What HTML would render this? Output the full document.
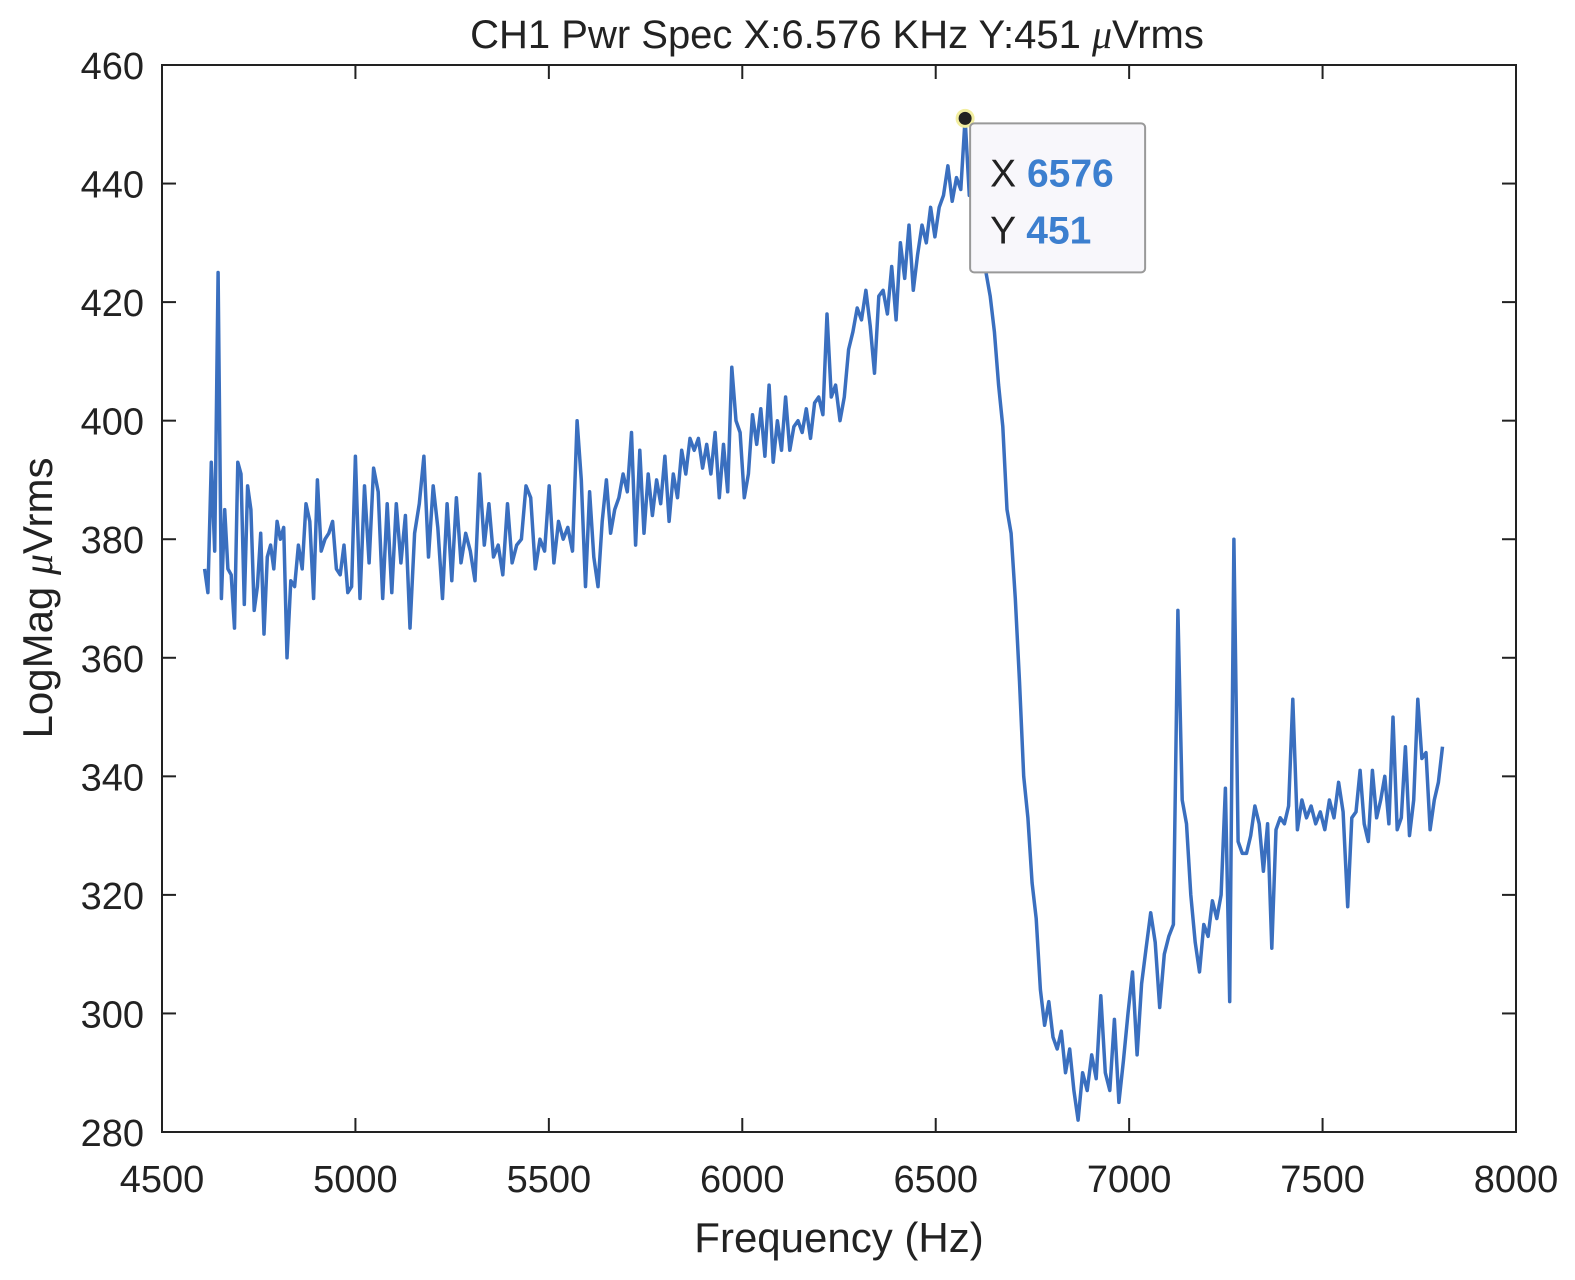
<!DOCTYPE html>
<html><head><meta charset="utf-8"><style>
html,body{margin:0;padding:0;background:#fff;}
svg text{font-family:"Liberation Sans",sans-serif;fill:#222;}
</style></head><body>
<svg width="1575" height="1275" xmlns="http://www.w3.org/2000/svg">
<rect width="1575" height="1275" fill="#fff"/>
<text x="837" y="48" font-size="40" text-anchor="middle">CH1 Pwr Spec X:6.576 KHz Y:451 <tspan font-family="Liberation Serif" font-style="italic">μ</tspan>Vrms</text>
<g id="axes"></g>
<path id="series" fill="none" stroke="#3a6fbf" stroke-width="3.5" stroke-linejoin="round"/>
<rect x="162" y="65" width="1354" height="1067" fill="none" stroke="#222" stroke-width="2"/>
<text x="839" y="1252" font-size="42" text-anchor="middle">Frequency (Hz)</text>
<text transform="translate(52,598) rotate(-90)" font-size="42" text-anchor="middle">LogMag <tspan font-family="Liberation Serif" font-style="italic">μ</tspan>Vrms</text>
<g id="tip"></g>
</svg>
<script>
const xTicks=[4500,5000,5500,6000,6500,7000,7500,8000];
const yTicks=[280,300,320,340,360,380,400,420,440,460];
const segStarts=[4610,4645,4823,5000,5141,5573,5973,6219,6576,6868,7126,7260,7423,7565];
const segEnd=7810;
const segValues=[
[375,371,393,378],
[425,370,385,375,374,365,393,391,369,389,385,368,372,381,364,377,379,375,383,380,382],
[360,373,372,379,375,386,383,370,390,378,380,381,383,375,374,379,371,372],
[394,370,389,376,392,388,370,386,371,386,376,384],
[365,381,386,394,377,389,382,370,386,373,387,376,381,378,373,391,379,386,377,379,374,386,376,379,380,389,387,375,380,378,389,376,383,380,382,378],
[400,390,372,388,377,372,383,390,381,385,387,391,388,398,379,395,381,391,384,390,386,394,383,391,387,395,391,397,395,397,392,396,391,398,387,396,388],
[409,400,398,387,391,401,396,402,394,406,393,400,395,404,395,399,400,398,402,397,403,404,401],
[418,404,406,400,404,412,415,419,417,422,416,408,421,422,418,426,417,430,424,433,422,428,433,430,436,431,436,438,443,437,441,439],
[451,438,446,440,434,425,421,415,406,399,385,381,370,356,340,333,322,316,304,298,302,296,294,297,290,294,287],
[282,290,287,293,289,303,290,287,299,285,292,300,307,293,305,311,317,312,301,310,313,315],
[368,336,332,320,312,307,315,313,319,316,320,338],
[302,380,329,327,327,330,335,332,324,332,311,331,333,332,335],
[353,331,336,333,335,332,334,331,336,333,339,334],
[318,333,334,341,332,329,341,333,336,340,332,350,331,333,345,330,336,353,343,344,331,336,339,345]
];
const peakX=[6576], peakY=[451];
const X0=162,X1=1516,Y0=1132,Y1=65;
const sx=f=>X0+(f-4500)/(8000-4500)*(X1-X0);
const sy=v=>Y0-(v-280)/(460-280)*(Y0-Y1);
const NS="http://www.w3.org/2000/svg";
const ax=document.getElementById('axes');
function mk(tag,attrs,parent){const e=document.createElementNS(NS,tag);for(const k in attrs)e.setAttribute(k,attrs[k]);parent.appendChild(e);return e;}
xTicks.forEach(t=>{const x=sx(t);
 const a=mk('line',{x1:x,x2:x,y1:Y0,y2:Y0-14,stroke:'#222','stroke-width':2},ax);
 
 
 const b=mk('line',{x1:x,x2:x,y1:Y1,y2:Y1+14,stroke:'#222','stroke-width':2},ax);
 
 
 const l=mk('text',{x:x,y:1192,'font-size':38,'text-anchor':'middle'},ax);l.textContent=t;
 
 
});
yTicks.forEach(t=>{const y=sy(t);
 const a=mk('line',{x1:X0,x2:X0+14,y1:y,y2:y,stroke:'#222','stroke-width':2},ax);
 
 
 const b=mk('line',{x1:X1,x2:X1-14,y1:y,y2:y,stroke:'#222','stroke-width':2},ax);
 
 
 const l=mk('text',{x:144,y:y+14,'font-size':38,'text-anchor':'end'},ax);l.textContent=t;
 
 
});
let pts=[];
segValues.forEach((vals,i)=>{
 const s=segStarts[i], e=i+1<segStarts.length?segStarts[i+1]:segEnd;
 const n=i+1<segStarts.length?vals.length:vals.length-1;
 vals.forEach((v,j)=>{pts.push([s+(e-s)*j/n,v]);});
});
document.getElementById('series').setAttribute('d',pts.map((p,i)=>(i?'L':'M')+sx(p[0]).toFixed(1)+','+sy(p[1]).toFixed(1)).join(''));
const tip=document.getElementById('tip');
const px=sx(peakX[0]),py=sy(peakY[0]);
const m=mk('circle',{cx:px,cy:py,r:8,fill:'#222',stroke:'#f2eea0','stroke-width':3},tip);


const bx=mk('rect',{x:px+5,y:py+5,width:175,height:149,rx:4,fill:'#f8f7fb',stroke:'#999','stroke-width':2},tip);


const t1=mk('text',{x:px+25,y:py+68,'font-size':39},tip);
t1.innerHTML='X <tspan font-weight="bold" style="fill:#3c7fcf">'+peakX[0]+'</tspan>';


const t2=mk('text',{x:px+25,y:py+125,'font-size':39},tip);
t2.innerHTML='Y <tspan font-weight="bold" style="fill:#3c7fcf">'+peakY[0]+'</tspan>';


</script>
</body></html>
